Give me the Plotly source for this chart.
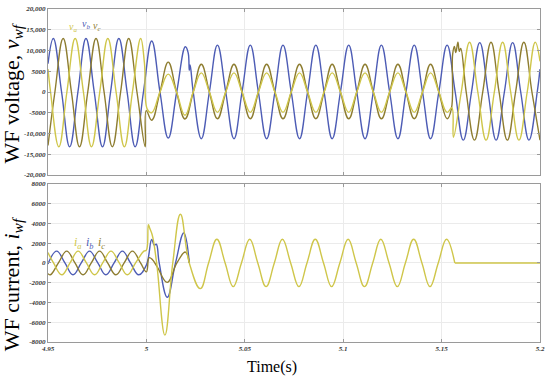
import plotly.graph_objects as go

# ---------------- data ----------------
# WF voltage, phase b (blue)
vb_t = [4.9500, 4.9527, 4.9569, 4.9610, 4.9652, 4.9693, 4.9735, 4.9777, 4.9818, 4.9860,
        4.9902, 4.9943, 4.9985, 5.0027, 5.0069, 5.0111, 5.0154, 5.0198, 5.0212, 5.0218,
        5.0222, 5.0238, 5.0279, 5.0320, 5.0361, 5.0403, 5.0445, 5.0486, 5.0528, 5.0569,
        5.0611, 5.0653, 5.0694, 5.0736, 5.0778, 5.0819, 5.0861, 5.0903, 5.0944, 5.0986,
        5.1028, 5.1069, 5.1111, 5.1153, 5.1194, 5.1236, 5.1278, 5.1319, 5.1361, 5.1403,
        5.1444, 5.1486, 5.1528, 5.1569, 5.1610, 5.1652, 5.1694, 5.1736, 5.1777, 5.1819,
        5.1861, 5.1902, 5.1944, 5.1986, 5.2000]
vb_v = [6800, 12900, 0, -13200, 0, 12900, 0, -13200, 0, 12900,
        0, -13200, 0, 12300, 0, -11100, 0, 10900, 9500, 5200,
        6500, 0, -11250, 0, 11300, 0, -11250, 0, 11300, 0,
        -11250, 0, 11300, 0, -11250, 0, 11300, 0, -11250, 0,
        11300, 0, -11250, 0, 11300, 0, -11250, 0, 11300, 0,
        -11250, 0, 11300, 0, -11600, 0, 11900, 0, -11600, 0,
        11900, 0, -11600, 0, 5500]

# WF voltage, phase c (olive)
vc_t = [4.9500, 4.9535, 4.9577, 4.9619, 4.9660, 4.9702, 4.9744, 4.9785, 4.9827, 4.9869,
        4.9910, 4.9952, 4.9994, 4.9999, 5.0027, 5.0069, 5.0111, 5.0153, 5.0196, 5.0238,
        5.0279, 5.0320, 5.0361, 5.0403, 5.0445, 5.0486, 5.0528, 5.0569, 5.0611, 5.0653,
        5.0694, 5.0736, 5.0778, 5.0819, 5.0861, 5.0903, 5.0944, 5.0986, 5.1028, 5.1069,
        5.1111, 5.1153, 5.1194, 5.1236, 5.1278, 5.1319, 5.1361, 5.1403, 5.1444, 5.1486,
        5.1528, 5.1550, 5.1556, 5.1565, 5.1572, 5.1583, 5.1590, 5.1597, 5.1625, 5.1667,
        5.1709, 5.1751, 5.1792, 5.1834, 5.1876, 5.1918, 5.1959, 5.2000]
vc_v = [-12900, 0, 12900, 0, -13200, 0, 12900, 0, -13200, 0,
        12900, 0, -13200, -4500, -6800, 0, 7200, 0, -6500, 0,
        6700, 0, -6450, 0, 6700, 0, -6450, 0, 6700, 0,
        -6450, 0, 6700, 0, -6450, 0, 6700, 0, -6450, 0,
        6700, 0, -6450, 0, 6700, 0, -6450, 0, 6700, 0,
        -6450, -4000, 9000, 11000, 9500, 12000, 9800, 10500, 0, -11600,
        0, 12000, 0, -11600, 0, 12000, 0, -11600]

# WF voltage, phase a (yellow)
va_t = [4.9500, 4.9513, 4.9555, 4.9596, 4.9638, 4.9680, 4.9721, 4.9763, 4.9804, 4.9846,
        4.9888, 4.9929, 4.9971, 4.9990, 5.0005, 5.0027, 5.0069, 5.0111, 5.0153, 5.0196,
        5.0238, 5.0279, 5.0320, 5.0361, 5.0403, 5.0445, 5.0486, 5.0528, 5.0569, 5.0611,
        5.0653, 5.0694, 5.0736, 5.0778, 5.0819, 5.0861, 5.0903, 5.0944, 5.0986, 5.1028,
        5.1069, 5.1111, 5.1153, 5.1194, 5.1236, 5.1278, 5.1319, 5.1361, 5.1403, 5.1444,
        5.1486, 5.1528, 5.1552, 5.1560, 5.1600, 5.1642, 5.1684, 5.1726, 5.1768, 5.1810,
        5.1851, 5.1893, 5.1935, 5.1976, 5.2000]
va_v = [5500, 0, -13200, 0, 12900, 0, -13200, 0, 12900, 0,
        -13200, 0, 12900, 7000, -4200, -5000, 0, 4300, 0, -5600,
        0, 4600, 0, -4900, 0, 4600, 0, -4900, 0, 4600,
        0, -4900, 0, 4600, 0, -4900, 0, 4600, 0, -4900,
        0, 4600, 0, -4900, 0, 4600, 0, -4900, 0, 4600,
        0, -4900, -3800, -10900, 0, 12000, 0, -11600, 0, 12000,
        0, -11600, 0, 12000, 7400]

# WF current, phase b (blue)
ib_t = [4.9500, 4.9544, 4.9586, 4.9627, 4.9669, 4.9711, 4.9753, 4.9794, 4.9836, 4.9878,
        4.9919, 4.9961, 5.0000, 5.0027, 5.0040, 5.0050, 5.0065, 5.0106, 5.0148, 5.0190,
        5.0218]
ib_v = [-100, 1200, 0, -1200, 0, 1200, 0, -1200, 0, 1200,
        0, -1200, -200, 2370, 1800, 1900, 0, -3470, 0, 3030,
        0]

# WF current, phase c (olive)
ic_t = [4.9500, 4.9512, 4.9553, 4.9595, 4.9637, 4.9678, 4.9720, 4.9762, 4.9803, 4.9845,
        4.9887, 4.9929, 4.9970, 5.0000, 5.0014, 5.0030, 5.0055, 5.0106, 5.0155, 5.0198,
        5.0218]
ic_v = [-1080, -1200, 0, 1200, 0, -1200, 0, 1200, 0, -1200,
        0, 1200, 0, -900, 530, 350, -400, -1970, 0, 1100,
        0]

# WF current, phase a (yellow)
ia_t = [4.9500, 4.9528, 4.9570, 4.9612, 4.9653, 4.9695, 4.9737, 4.9778, 4.9820, 4.9862,
        4.9903, 4.9945, 4.9987, 5.0000, 5.0010, 5.0017, 5.0030, 5.0052, 5.0094, 5.0134,
        5.0173, 5.0218, 5.0274, 5.0316, 5.0358, 5.0400, 5.0441, 5.0483, 5.0525, 5.0566,
        5.0608, 5.0650, 5.0691, 5.0733, 5.0775, 5.0816, 5.0858, 5.0900, 5.0941, 5.0983,
        5.1025, 5.1066, 5.1108, 5.1150, 5.1191, 5.1233, 5.1275, 5.1316, 5.1358, 5.1400,
        5.1441, 5.1483, 5.1525, 5.1567]
ia_v = [1050, 0, -1200, 0, 1200, 0, -1200, 0, 1200, 0,
        -1200, 0, 1200, 1300, 3870, 3500, 2800, 0, -7300, 0,
        4930, 0, -2600, 0, 2400, 0, -2400, 0, 2400, 0,
        -2400, 0, 2400, 0, -2400, 0, 2400, 0, -2400, 0,
        2400, 0, -2400, 0, 2400, 0, -2400, 0, 2400, 0,
        -2400, 0, 2400, 0]
# after the breaker opens the current stays at zero
ia_off_t = [5.1567, 5.2000]
ia_off_v = [0, 0]

# tick labels
v_ticks = [-20000, -15000, -10000, -5000, 0, 5000, 10000, 15000, 20000]
v_tick_text = ["-20,000", "-15,000", "-10,000", "-5000", "0", "5000", "10,000", "15,000", "20,000"]
i_ticks = [-8000, -6000, -4000, -2000, 0, 2000, 4000, 6000, 8000]
i_tick_text = ["-8000", "-6000", "-4000", "-2000", "0", "2000", "4000", "6000", "8000"]
t_ticks = [4.95, 5.0, 5.05, 5.1, 5.15, 5.2]
t_tick_text = ["4.95", "5", "5.05", "5.1", "5.15", "5.2"]

# ---------------- styling ----------------
YEL = "#cfc64a"
BLU = "#4d5cb5"
OLV = "#8e7d30"
SERIF = "Liberation Serif"
LW = 1.4
SM = 1.2

fig = go.Figure()

def add(t, v, color, xa, ya, shape="spline"):
    fig.add_trace(go.Scatter(x=t, y=v, mode="lines", xaxis=xa, yaxis=ya,
                             line=dict(color=color, width=LW, shape=shape,
                                       smoothing=SM if shape == "spline" else None),
                             showlegend=False, hoverinfo="skip"))

add(vb_t, vb_v, BLU, "x", "y")
add(vc_t, vc_v, OLV, "x", "y")
add(va_t, va_v, YEL, "x", "y")
add(ib_t, ib_v, BLU, "x2", "y2")
add(ic_t, ic_v, OLV, "x2", "y2")
add(ia_t, ia_v, YEL, "x2", "y2")
add(ia_off_t, ia_off_v, YEL, "x2", "y2", shape="linear")

tickfont = dict(family=SERIF, size=7, color="#333333", style="italic", weight="bold")
axis_common = dict(showline=True, linecolor="#9a9a9a", linewidth=1, mirror="ticks",
                   ticks="inside", ticklen=3, tickcolor="#9a9a9a",
                   showgrid=True, gridcolor="#ebebeb", gridwidth=1, zeroline=False,
                   tickfont=tickfont)

fig.update_layout(
    width=550, height=378,
    margin=dict(l=48, r=6, t=5, b=36),
    paper_bgcolor="white", plot_bgcolor="white",
    xaxis=dict(domain=[0, 1], anchor="y", range=[4.95, 5.2], tickvals=t_ticks,
               showticklabels=False, **axis_common),
    yaxis=dict(domain=[0.5015, 1], anchor="x", range=[-20000, 20000],
               tickvals=v_ticks, ticktext=v_tick_text, **axis_common),
    xaxis2=dict(domain=[0, 1], anchor="y2", range=[4.95, 5.2], tickvals=t_ticks,
                ticktext=t_tick_text, matches="x", **axis_common),
    yaxis2=dict(domain=[0, 0.4748], anchor="x2", range=[-8000, 8000],
                tickvals=i_ticks, ticktext=i_tick_text, **axis_common),
)

ann = []
ann.append(dict(text="WF voltage, <i>v<sub>wf</sub></i>", xref="paper", yref="paper",
                x=-0.072, y=0.748, xanchor="center", yanchor="middle", textangle=-90,
                showarrow=False, font=dict(family=SERIF, size=22, color="black")))
ann.append(dict(text="WF current, <i>i<sub>wf</sub></i>", xref="paper", yref="paper",
                x=-0.072, y=0.175, xanchor="center", yanchor="middle", textangle=-90,
                showarrow=False, font=dict(family=SERIF, size=22, color="black")))
ann.append(dict(text="Time(s)", xref="paper", yref="paper", x=0.456, y=-0.074,
                xanchor="center", yanchor="middle", showarrow=False,
                font=dict(family=SERIF, size=16, color="black")))
# phase labels
for txt, xx, yy, col in [("<i>v<sub>a</sub></i>", 4.9626, 15600, YEL),
                         ("<i>v<sub>b</sub></i>", 4.9695, 16200, BLU),
                         ("<i>v<sub>c</sub></i>", 4.9748, 15800, OLV)]:
    ann.append(dict(text=txt, x=xx, y=yy, xref="x", yref="y", showarrow=False,
                    font=dict(family=SERIF, size=10, color=col)))
for txt, xx, yy, col in [("<i>i<sub>a</sub></i>", 4.9650, 2000, YEL),
                         ("<i>i<sub>b</sub></i>", 4.9711, 2000, BLU),
                         ("<i>i<sub>c</sub></i>", 4.9770, 2000, OLV)]:
    ann.append(dict(text=txt, x=xx, y=yy, xref="x2", yref="y2", showarrow=False,
                    font=dict(family=SERIF, size=12, color=col)))
fig.update_layout(annotations=ann)

fig.write_html("out.html", config={"displayModeBar": False},
               post_script="document.body.style.margin='0';document.body.style.padding='0';")
